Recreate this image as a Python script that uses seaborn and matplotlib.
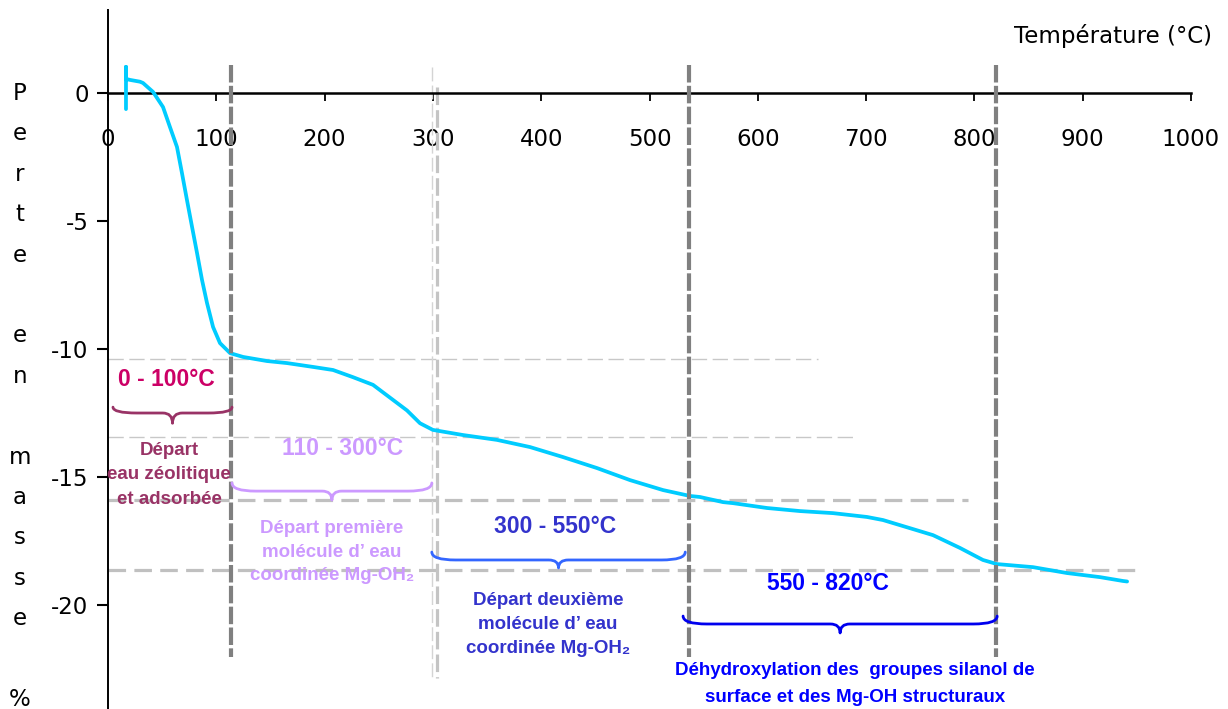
import matplotlib
matplotlib.use("Agg")
import matplotlib.pyplot as plt
from matplotlib.path import Path
from matplotlib.patches import PathPatch
import pandas as pd
import seaborn as sns

# Thermogravimetric curve: mass loss (%) versus temperature (°C)
temperature = [16.6, 16.6, 16.6, 20.3, 29.5, 32.3, 41.6, 50.8, 57.2, 63.7, 68.3,
               72.9, 77.6, 82.2, 86.8, 91.4, 97.0, 103.4, 112.7, 124.7, 146.8,
               165.3, 189.3, 207.8, 226.2, 244.7, 260.4, 276.1, 288.1, 300.0,
               327.8, 359.2, 389.7, 420.1, 451.5, 482.0, 512.5, 537.4, 546.6,
               567.9, 577.1, 608.5, 639.0, 669.4, 700.8, 715.6, 731.3, 761.8,
               786.7, 807.9, 820.9, 854.1, 885.5, 916.0, 937.2, 941.0]
mass_loss = [-0.63, 1.02, 0.55, 0.51, 0.44, 0.39, 0.04, -0.55, -1.33, -2.11, -3.13,
             -4.18, -5.23, -6.25, -7.30, -8.20, -9.14, -9.77, -10.16, -10.31, -10.47,
             -10.55, -10.70, -10.82, -11.10, -11.40, -11.90, -12.40, -12.90, -13.16,
             -13.36, -13.55, -13.83, -14.22, -14.65, -15.12, -15.51, -15.74, -15.78,
             -15.98, -16.02, -16.21, -16.33, -16.41, -16.56, -16.68, -16.88, -17.27,
             -17.77, -18.24, -18.40, -18.52, -18.75, -18.91, -19.06, -19.08]

# Transition temperatures (dark guides) and secondary guides near 300 °C
major_transitions = [113.6, 536.5, 820.0]
minor_transitions = [299.2, 303.8]

# Mass plateaus reached at each step, with the extent of each guide line
plateau_levels = [-10.40, -13.44, -15.88, -18.65]
plateau_ends = [655.6, 689.8, 794.0, 952.9]

# Temperature ranges of each step
range_labels = ["0 - 100°C", "110 - 300°C", "300 - 550°C", "550 - 820°C"]
range_starts = [4.6, 114.5, 299.0, 531.0]
range_stops = [114.5, 299.0, 533.0, 821.0]
step_descriptions = [
    "Départ\neau zéolitique\net adsorbée",
    "Départ première\nmolécule d’ eau\ncoordinée Mg-OH₂",
    "Départ deuxième\nmolécule d’ eau\ncoordinée Mg-OH₂",
    "Déhydroxylation des  groupes silanol de\nsurface et des Mg-OH structuraux",
]

x_ticks = list(range(0, 1001, 100))
y_ticks = [0, -5, -10, -15, -20]
y_axis_letters = ["P", "e", "r", "t", "e", "", "e", "n", "", "m", "a", "s", "s", "e", "", "%"]

sns.set_theme(style="ticks")
plt.rcParams["font.family"] = ["DejaVu Sans"]
plt.rcParams["axes.unicode_minus"] = False

fig = plt.figure(figsize=(12.28, 7.09), dpi=100)
ax = fig.add_axes([108 / 1228, 0.0, (1191 - 108) / 1228, 1 - 10 / 709])
ax.set_xlim(0, 1000)
ax.set_ylim(-24.06, 3.24)

# Horizontal plateau guides
for i, (lvl, end) in enumerate(zip(plateau_levels, plateau_ends)):
    if i < 2:
        ax.plot([0, end], [lvl, lvl], color="#c8c8c8", lw=1.0, dashes=(11, 4), zorder=1)
    else:
        ax.plot([0, end], [lvl, lvl], color="#c0c0c0", lw=2.3, dashes=(5.5, 2.6), zorder=1)

# Secondary guides near 300 °C
ax.plot([minor_transitions[0]] * 2, [1.0, -22.85], color="#d4d4d4", lw=1.0,
        dashes=(10, 3), zorder=1)
ax.plot([minor_transitions[1]] * 2, [0.23, -22.85], color="#c4c4c4", lw=2.3,
        dashes=(5.5, 1.6), zorder=1)

df = pd.DataFrame({"Température": temperature, "Perte": mass_loss})
sns.lineplot(data=df, x="Température", y="Perte", sort=False, estimator=None,
             color="#00ccff", lw=2.7, ax=ax, zorder=3)

# Dark guides at the main transitions
for t in major_transitions:
    ax.plot([t, t], [1.09, -22.03], color="#808080", lw=3.0, dashes=(4.2, 0.8), zorder=4)


def brace(x0, x1, y_end, y_bar, y_tip, color, end_w=22, tip_w=9):
    xm = (x0 + x1) / 2
    verts = [(x0, y_end), (x0, y_bar), (x0 + end_w, y_bar),
             (xm - tip_w, y_bar), (xm, y_bar), (xm, y_tip),
             (xm, y_bar), (xm + tip_w, y_bar),
             (x1 - end_w, y_bar), (x1, y_bar), (x1, y_end)]
    codes = [Path.MOVETO, Path.CURVE3, Path.CURVE3, Path.LINETO, Path.CURVE3, Path.CURVE3,
             Path.CURVE3, Path.CURVE3, Path.LINETO, Path.CURVE3, Path.CURVE3]
    ax.add_patch(PathPatch(Path(verts, codes), fill=False, edgecolor=color, lw=2.0,
                           capstyle="round", joinstyle="round", zorder=5))


range_colors = ["#cc0066", "#cc99ff", "#3333cc", "#0000ff"]
brace_colors = ["#993366", "#cc99ff", "#3366ff", "#0000ee"]
desc_colors = ["#993366", "#cc99ff", "#3333cc", "#0000ff"]
brace_levels = [(-12.27, -12.50, -12.90), (-15.23, -15.55, -15.90),
                (-17.93, -18.24, -18.55), (-20.43, -20.74, -21.09)]
label_pos = [(53.6, -11.21), (217.0, -13.90), (412.7, -16.95), (664.8, -19.14)]
desc_pos = [(56.5, -14.92), (206.8, -17.93), (406.3, -20.75), (689.8, -23.09)]
desc_sizes = [13.5, 13.5, 13.5, 13.5]
desc_spacing = [1.55, 1.5, 1.55, 1.72]

for i in range(4):
    y_end, y_bar, y_tip = brace_levels[i]
    brace(range_starts[i], range_stops[i], y_end, y_bar, y_tip, brace_colors[i])
    ax.text(*label_pos[i], range_labels[i], color=range_colors[i], fontsize=16.5,
            fontweight="bold", family=["Liberation Sans", "DejaVu Sans"],
            ha="center", va="center", zorder=6)
    ax.text(*desc_pos[i], step_descriptions[i], color=desc_colors[i],
            fontsize=desc_sizes[i], fontweight="bold",
            family=["Liberation Sans", "DejaVu Sans"], ha="center", va="center",
            multialignment="center", linespacing=desc_spacing[i], zorder=6)

# Axis frame: x axis drawn through zero, ticks hanging below
for side in ("top", "right"):
    ax.spines[side].set_visible(False)
ax.spines["bottom"].set_position(("data", 0))
ax.spines["bottom"].set_linewidth(1.8)
ax.spines["left"].set_linewidth(1.4)
ax.spines["bottom"].set_color("black")
ax.spines["left"].set_color("black")
ax.spines["bottom"].set_zorder(2)
ax.set_xticks(x_ticks)
ax.set_yticks(y_ticks)
ax.set_xticklabels([str(v) for v in x_ticks])
ax.set_yticklabels([str(v) for v in y_ticks])
ax.tick_params(axis="x", direction="out", length=6, width=1.3, pad=19,
               labelsize=16.5, colors="black")
ax.tick_params(axis="y", direction="out", length=8, width=1.5, pad=6,
               labelsize=16.5, colors="black")
ax.set_xlabel("")
ax.set_ylabel("")
ax.set_facecolor("white")

fig.text(1212 / 1228, 1 - 36 / 709, "Température (°C)", ha="right", va="center",
         fontsize=16.5, color="black")

for k, ch in enumerate(y_axis_letters):
    if ch:
        fig.text(20 / 1228, 1 - (100 + k * 40.4) / 709, ch, ha="center",
                 va="baseline", fontsize=16.5, color="black")

fig.savefig("out.png", dpi=100, facecolor="white")
